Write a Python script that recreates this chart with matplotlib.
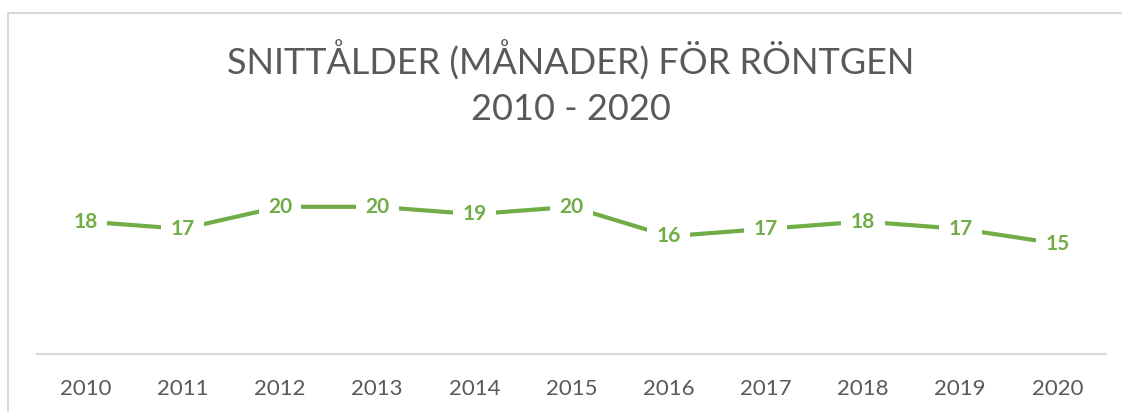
import matplotlib
matplotlib.use("Agg")
import matplotlib.pyplot as plt
import matplotlib.patches as patches

years = ['2010', '2011', '2012', '2013', '2014', '2015', '2016', '2017', '2018', '2019', '2020']
ages = [18, 17, 20, 20, 19, 20, 16, 17, 18, 17, 15]

green = '#70AD47'
grey = '#595959'
plt.rcParams['font.family'] = ['Lato', 'DejaVu Sans']

fig = plt.figure(figsize=(11.22, 4.12), dpi=100)
ax = fig.add_axes([37/1122, 1-354/412, (1106-37)/1122, (354-170)/412])

x = list(range(len(years)))
ax.plot(x, ages, color=green, lw=3, solid_capstyle='butt', zorder=2)
for xi, v in zip(x, ages):
    ax.text(xi, v, str(v), ha='center', va='center', color=green, fontsize=15,
            fontweight='bold', zorder=3,
            bbox=dict(boxstyle='square,pad=0.45', fc='white', ec='none'))

ax.set_xlim(-0.5, len(years) - 0.5)
ax.set_ylim(0, 25)
ax.set_xticks(x)
ax.set_xticklabels(years, fontsize=16, color=grey)
ax.tick_params(axis='x', length=0, pad=18)
ax.set_yticks([])
for s in ['top', 'right', 'left']:
    ax.spines[s].set_visible(False)
ax.spines['bottom'].set_color('#d9d9d9')
ax.spines['bottom'].set_linewidth(1.5)

# title, centred on the chart frame (frame starts at x=8)
tx = 571/1122
fig.text(tx, 1-60/412, 'SNITTÅLDER (MÅNADER) FÖR RÖNTGEN', ha='center', va='center',
         fontsize=26, color=grey)
fig.text(tx, 1-109/412, '2010 - 2020', ha='center', va='center',
         fontsize=26, color=grey)

fig.patches.append(patches.Rectangle((8/1122, -0.1), 1.2, 1-13/412 + 0.1,
                                     transform=fig.transFigure, fill=False,
                                     ec='#d9d9d9', lw=1.5))

fig.savefig('out.png', dpi=100)
